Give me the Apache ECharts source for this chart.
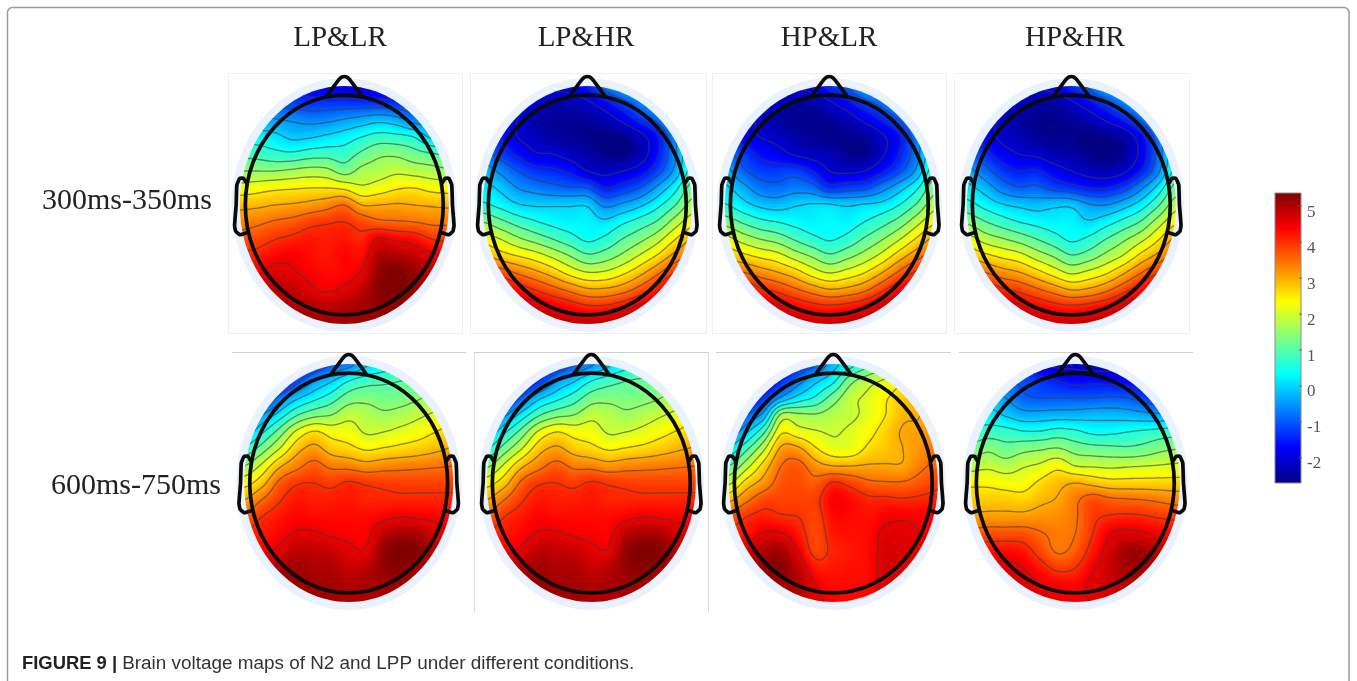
<!DOCTYPE html>
<html><head><meta charset="utf-8"><style>html,body{margin:0;padding:0;background:#fff}#c{width:1357px;height:681px}</style>
<script src="https://cdn.jsdelivr.net/npm/echarts@6/dist/echarts.min.js"></script></head><body><div id="c"></div>
<script>
const columnLabels=['LP&LR','LP&HR','HP&LR','HP&HR'];
const windowLabels=['300ms-350ms','600ms-750ms'];
const colorbarTicks=[-2,-1,0,1,2,3,4,5];
const colorbarRange=[-2.7,5.37];
const contourLevels=[-2,-1.5,-1,-0.5,0,0.5,1,1.5,2,2.5,3,3.5,4,4.5];
const jetStops=[[0,[0,0,128]],[0.125,[0,0,255]],[0.375,[0,255,255]],[0.625,[255,255,0]],[0.875,[255,0,0]],[1,[128,0,0]]];
const caption='Brain voltage maps of N2 and LPP under different conditions.';

const lpLr300=[
[-1.2,-1.2,-1.3,-1.5,-1.8,-1.9,-2,-2,-2,-1.9,-1.7,-1.4,-1.2],
[-.6,-.7,-1.1,-1.2,-1.3,-1.3,-1.3,-1.3,-1.3,-1.35,-1.3,-1.2,-1],
[-.2,-.3,-.45,-.55,-.65,-.6,-.45,-.3,-.15,-.3,-.7,-.7,-.6],
[.3,.25,.15,-.1,-.05,.1,.25,.5,.7,.65,.5,-.1,-.1],
[.85,.8,.65,.6,.75,.8,.75,1.1,1.4,1.4,1.2,1.05,.9],
[1.5,1.5,1.5,1.6,1.7,1.65,1.3,1.65,1.75,1.9,1.8,1.7,1.6],
[2.2,2.3,2.4,2.45,2.5,2.5,2.4,2.1,2.25,2.45,2.5,2.35,2.3],
[2.85,2.9,3,3.05,3.15,3.3,3.5,3,3,3.05,3,2.95,2.9],
[3.3,3.4,3.55,3.65,3.85,3.95,4,3.8,3.6,3.55,3.5,3.4,3.4],
[3.7,3.8,3.98,4.1,4.2,4.15,4.2,4.1,4.55,4.4,4.3,4,3.9],
[4.1,4.15,4.35,4.42,4.3,4.2,4.35,4.3,5,5,4.85,4.6,4.4],
[4.4,4.45,4.65,4.55,4.4,4.3,4.35,4.55,5.2,5.4,5.2,4.9,4.7],
[4.6,4.7,4.9,4.85,4.6,4.45,4.6,4.85,5.3,5.4,5.2,5,4.8],
[4.7,4.8,5,5,5,4.9,5,5.1,5.2,5.2,5,4.9,4.8],
[4.8,4.9,5,5.1,5.1,5.1,5.1,5.1,5.1,5,4.9,4.8,4.8]];
const lpHr300=[
[-1.5,-1.6,-1.7,-1.8,-1.9,-1.8,-1.5,-.8,-.3,0,.1,.2,.3],
[-1.5,-1.6,-1.8,-2.1,-2.3,-2.3,-2.1,-1.7,-1.2,-.7,-.2,.2,.3],
[-1.3,-1.6,-2,-2.4,-2.5,-2.5,-2.5,-2.3,-1.9,-1.4,-.9,-.2,.3],
[-1,-1.5,-2,-2.2,-2.4,-2.5,-2.6,-2.7,-2.6,-2.2,-1.6,-.6,.4],
[-.8,-1.2,-1.6,-1.95,-2,-2.2,-2.4,-2.6,-2.7,-2.3,-1.6,-.6,.5],
[-.2,-.6,-1,-1.3,-1.4,-1.6,-2,-2.15,-2,-1.75,-1.2,-.4,.7],
[.2,-.1,-.5,-.7,-.85,-.95,-1,-1.5,-1.3,-1,-.4,.3,1.2],
[.6,.35,.05,-.05,-.05,-.05,-.05,-.6,-.4,-.1,.35,.95,1.7],
[1.5,1.15,.8,.55,.35,.25,.25,.1,.4,.7,1.05,1.7,2.3],
[2.3,2,1.6,1.3,1,.7,.42,.6,1,1.35,1.8,2.45,3],
[3.1,2.75,2.5,2.25,1.9,1.5,1.1,1.25,1.6,2.05,2.55,3.15,3.6],
[4,3.8,3.45,3.15,2.8,2.35,2.05,2.1,2.4,2.85,3.4,4,4.3],
[4.6,4.6,4.3,4,3.7,3.4,3.1,3.1,3.3,3.7,4.2,4.7,4.8],
[4.8,4.8,4.8,4.7,4.5,4.3,4.1,4.1,4.3,4.6,4.8,4.9,4.9],
[5,5,5,5,5,4.9,4.9,4.9,5,5,5,5,5]];
const hpLr300=[
[-1.5,-1.6,-1.7,-1.8,-1.9,-1.8,-1.4,-1,-.3,0,.1,.2,.3],
[-1.5,-1.6,-1.9,-2.2,-2.4,-2.4,-2.1,-1.7,-1.2,-.8,-.3,.1,.3],
[-1.3,-1.6,-2.1,-2.4,-2.6,-2.6,-2.5,-2.3,-1.9,-1.5,-1,-.3,.3],
[-1,-1.7,-2,-2.15,-2.4,-2.5,-2.6,-2.6,-2.5,-2.1,-1.6,-.7,.4],
[-.9,-1.2,-1.6,-1.8,-2.05,-2.2,-2.3,-2.55,-2.6,-2.1,-1.5,-.7,.5],
[-.3,-.9,-1.2,-1.25,-1.2,-1.5,-2,-2.1,-2,-1.6,-1.1,-.4,.8],
[.1,-.3,-.75,-.85,-.7,-.8,-1.3,-1.2,-1.1,-.7,-.2,.4,1.3],
[.55,.2,-.1,-.2,-.05,.05,.05,-.05,.05,.15,.5,1.05,1.8],
[1.3,.95,.65,.5,.35,.25,.3,.25,.5,.8,1.2,1.8,2.4],
[2.2,1.8,1.5,1.3,.95,.65,.45,.65,1.05,1.45,1.95,2.55,3.1],
[2.9,2.65,2.4,2.2,1.8,1.45,1.1,1.35,1.7,2.15,2.75,3.3,3.7],
[3.7,3.55,3.3,3.05,2.75,2.3,2,2.2,2.5,3,3.6,4.1,4.3],
[4.4,4.5,4.1,3.9,3.6,3.3,3.05,3.15,3.4,3.9,4.4,4.7,4.8],
[4.8,4.8,4.8,4.6,4.4,4.2,4.1,4.2,4.4,4.7,4.8,4.9,4.9],
[5,5,5,5,4.9,4.8,4.8,4.9,5,5,5,5,5]];
const hpHr300=[
[-1.5,-1.6,-1.7,-1.8,-1.9,-1.8,-1.4,-.9,-.3,0,.2,.3,.4],
[-1.5,-1.6,-1.9,-2.2,-2.4,-2.4,-2.1,-1.7,-1.2,-.7,-.2,.3,.4],
[-1.3,-1.7,-2.1,-2.4,-2.6,-2.6,-2.5,-2.3,-1.95,-1.5,-.9,-.2,.4],
[-.9,-1.7,-2.1,-2.3,-2.5,-2.6,-2.6,-2.7,-2.6,-2.4,-1.7,-.7,.4],
[-.8,-1.3,-1.75,-2,-2.1,-2.3,-2.4,-2.6,-2.7,-2.5,-1.85,-.8,.5],
[-.3,-.8,-1.25,-1.5,-1.45,-1.75,-2,-2.2,-2.3,-2.1,-1.5,-.6,.7],
[.15,-.2,-.7,-.95,-.9,-1.15,-1.3,-1.5,-1.5,-1.2,-.6,.2,1.2],
[.7,.35,.05,-.1,-.2,-.1,-.1,-.45,-.5,-.2,.25,.95,1.8],
[1.4,1.05,.75,.5,.35,.25,.25,.05,.3,.65,1.05,1.75,2.4],
[2.25,1.8,1.55,1.3,1,.7,.42,.6,1,1.4,1.85,2.45,3.1],
[2.9,2.65,2.4,2.2,1.8,1.45,1.05,1.25,1.65,2.05,2.65,3.15,3.7],
[3.8,3.55,3.25,3.05,2.7,2.3,1.95,2.15,2.45,2.95,3.5,4,4.3],
[4.4,4.4,4.1,3.9,3.6,3.3,3,3.1,3.4,3.85,4.3,4.7,4.8],
[4.8,4.8,4.8,4.6,4.4,4.2,4.1,4.2,4.4,4.7,4.8,4.9,4.9],
[5,5,5,5,4.9,4.8,4.8,4.9,5,5,5,5,5]];
const lpLr600=[
[-2,-2,-2,-2,-1.5,-1,-.7,-.1,.2,.4,.6,.9,1.2],
[-2,-2,-2,-1.2,-.5,-.05,.5,.8,.9,1,1.1,1.3,1.5],
[-1.8,-1.7,-.8,-.1,.35,.75,1.25,1.35,1.25,1.3,1.45,1.7,1.9],
[-1.2,-.5,.2,.95,1.35,1.5,1.85,1.75,1.6,1.7,1.9,2.1,2.3],
[-.3,.4,1.2,2.1,2.55,2.3,2.25,1.95,2,2.15,2.3,2.5,2.7],
[.6,1.25,2,2.8,3.15,2.8,2.65,2.45,2.55,2.65,2.75,2.9,3.05],
[1.5,2.1,2.9,3.35,3.65,3.4,3.35,3.2,3.3,3.35,3.4,3.45,3.5],
[2.3,2.8,3.6,3.95,4,3.9,4.05,3.95,3.9,3.85,3.85,3.85,3.85],
[3,3.5,3.95,4.2,4.15,4.15,4.2,4.1,4.1,4.1,4.1,4.1,4.1],
[3.6,4,4.2,4.35,4.3,4.3,4.3,4.3,4.4,4.5,4.45,4.4,4.3],
[4.1,4.2,4.35,4.55,4.55,4.45,4.4,4.4,4.9,5.05,5,4.7,4.5],
[4.4,4.4,4.6,4.9,4.85,4.8,4.6,4.55,5.2,5.4,5.3,4.9,4.6],
[4.7,4.9,5,5.1,5,5,4.8,4.9,5.2,5.3,5.1,4.8,4.7],
[4.8,5,5.1,5.2,5.1,5.1,5,5.05,5.1,5.1,4.9,4.8,4.7],
[4.9,5,5.1,5.1,5.1,5.1,5,5,5,5,4.9,4.8,4.7]];
const lpHr600=[
[-2.1,-2.1,-2.1,-2,-1.6,-1,-.6,-.1,.3,.5,.8,1,1.2],
[-2.1,-2.1,-2,-1.3,-.5,-.05,.5,.8,1,1.1,1.2,1.4,1.6],
[-1.9,-1.7,-.9,-.1,.35,.75,1.25,1.35,1.3,1.35,1.5,1.75,2],
[-1.2,-.6,.2,.95,1.35,1.5,1.85,1.75,1.6,1.75,1.95,2.15,2.35],
[-.4,.4,1.2,2.1,2.5,2.3,2.25,1.95,2,2.15,2.35,2.55,2.7],
[.5,1.25,2,2.8,3.1,2.8,2.65,2.45,2.55,2.65,2.8,2.95,3.05],
[1.4,2.1,2.9,3.35,3.65,3.4,3.35,3.2,3.3,3.35,3.4,3.45,3.5],
[2.3,2.8,3.6,3.95,4,3.9,4.05,3.95,3.9,3.85,3.85,3.85,3.85],
[3,3.5,3.95,4.2,4.15,4.15,4.2,4.1,4.1,4.1,4.1,4.1,4.1],
[3.6,4,4.2,4.35,4.3,4.3,4.3,4.3,4.4,4.5,4.45,4.4,4.3],
[4.1,4.2,4.35,4.55,4.55,4.45,4.4,4.4,4.9,5.05,5,4.7,4.5],
[4.4,4.4,4.6,4.9,4.85,4.8,4.6,4.55,5.2,5.4,5.3,4.9,4.6],
[4.7,4.9,5,5.1,5,5,4.8,4.9,5.2,5.3,5.1,4.8,4.7],
[4.8,5,5.1,5.2,5.1,5.1,5,5.05,5.1,5.1,4.9,4.8,4.7],
[4.9,5,5.1,5.1,5.1,5.1,5,5,5,5,4.9,4.8,4.7]];
const hpLr600=[
[-2.2,-2.2,-2.2,-2,-1.5,-1,-.2,.3,.9,1.3,1.8,2.2,2.5],
[-2.2,-2.2,-2,-1.4,-.7,-.1,.4,1.35,1.8,2.1,2.45,2.8,3],
[-2,-1.8,-1.3,-.4,.2,.6,1.25,1.85,2.1,2.45,2.75,3,3.2],
[-1.8,-1,-.3,1.6,1.6,1.55,1.75,1.9,2.15,2.5,2.9,3,3.3],
[-.9,-.1,.9,2.4,2.2,2.05,1.95,2.1,2.35,2.7,3.05,3.1,3.4],
[.1,.9,1.9,3.1,3.1,2.55,2.2,2.2,2.6,2.8,3,3.2,3.5],
[1,1.8,2.7,3.5,3.65,3.2,3,3,3.05,3.05,3.05,3.4,3.6],
[1.9,2.7,3.2,3.7,3.75,3.65,4.05,3.85,3.6,3.55,3.55,3.7,3.9],
[2.9,3.4,3.8,3.85,3.85,3.9,4.4,4.3,4.1,4.1,4.05,4.1,4.15],
[3.7,4,4.15,4.05,4,3.85,4.3,4.3,4.25,4.4,4.45,4.4,4.35],
[4.15,4.25,4.55,4.55,4.2,3.8,4.2,4.25,4.3,4.6,4.6,4.5,4.4],
[4.5,4.7,5,5.1,4.5,3.85,4.1,4.2,4.3,4.65,4.65,4.6,4.5],
[4.8,5,5.2,5.3,4.85,4.2,4.2,4.25,4.3,4.7,4.65,4.6,4.5],
[4.9,5,5.1,5.1,5,4.5,4.3,4.3,4.35,4.6,4.6,4.5,4.4],
[4.9,5,5,5,4.9,4.6,4.4,4.3,4.35,4.5,4.5,4.4,4.4]];
const hpHr600=[
[-.8,-.8,-1.2,-1.5,-2,-2.1,-2.1,-2.2,-2.2,-2.2,-2.1,-2,-1.9],
[-.6,-.4,-.9,-1.1,-1.3,-1.5,-1.65,-1.6,-1.65,-1.7,-1.8,-1.8,-1.7],
[-.5,-.2,-.5,-.9,-1,-1,-1,-1,-.95,-1,-1.2,-1.4,-1.2],
[.1,.2,-.05,-.3,-.3,-.25,-.25,-.2,-.2,-.25,-.35,-.4,-.3],
[.6,.75,.7,.55,.55,.7,.6,.4,.4,.5,.6,.7,.8],
[1.2,1.4,1.2,1.35,1.45,1.55,1.3,1.2,1.15,1.1,1.2,1.4,1.5],
[1.8,1.9,1.75,1.95,2.1,2.35,2,1.95,1.9,1.95,2,2.05,2.1],
[2.4,2.4,2.3,2.3,2.6,2.85,3,2.85,2.7,2.7,2.7,2.7,2.7],
[2.75,2.75,2.75,2.7,2.9,3.05,3.4,3.75,3.6,3.55,3.5,3.4,3.3],
[3.1,3.15,3.15,3.15,3.2,3.25,3.45,3.9,4.05,4.1,4.05,3.95,3.9],
[3.7,3.75,3.75,3.75,3.55,3.4,3.5,4,4.5,4.65,4.55,4.4,4.3],
[4.2,4.25,4.3,4.2,3.8,3.45,3.65,4.2,4.7,5.1,5.1,4.8,4.6],
[4.4,4.5,4.6,4.5,4.2,3.9,4,4.45,4.8,5.1,5.1,4.8,4.6],
[4.6,4.6,4.7,4.65,4.5,4.4,4.35,4.6,4.75,4.9,4.9,4.8,4.6],
[4.6,4.6,4.7,4.6,4.5,4.5,4.5,4.5,4.6,4.8,4.8,4.7,4.6]];

const maps=[lpLr300,lpHr300,hpLr300,hpHr300,lpLr600,lpHr600,hpLr600,hpHr600];
const centers=[[344.3,205],[587.3,205],[829.3,205],[1071.3,205],[348.7,483],[591.3,483],[833.3,483],[1075.3,483]];
const RX=104.5,RY=119;
const nose=[[-.165,.92],[-.05,1.055],[-.025,1.075],[0,1.08],[.025,1.075],[.05,1.055],[.165,.92]];
const ear=[[-.94,.19],[-.965,.225],[-1,.225],[-1.028,.17],[-1.035,0],[-1.05,-.17],[-1.04,-.22],[-1,-.25],[-.94,-.235]];

function jet(v){
  let t=(v-colorbarRange[0])/(colorbarRange[1]-colorbarRange[0]);t=Math.max(0,Math.min(1,t));
  for(let i=1;i<jetStops.length;i++){ if(t<=jetStops[i][0]){
    const a=jetStops[i-1],b=jetStops[i],f=(t-a[0])/(b[0]-a[0]);
    return [0,1,2].map(k=>a[1][k]+(b[1][k]-a[1][k])*f);
  }}
  return jetStops[jetStops.length-1][1];
}
function cr(a,b,c,d,t){return b+0.5*t*(c-a+t*(2*a-5*b+4*c-d+t*(3*(b-c)+d-a)));}
// smooth drawing of the read grid values (renderer only; the series holds just the read values)
function sample(m,fx,fy){
  const R=m.length-1,C=m[0].length-1;
  fx=Math.max(0,Math.min(C,fx));fy=Math.max(0,Math.min(R,fy));
  const i=Math.min(C-1,Math.floor(fx)),j=Math.min(R-1,Math.floor(fy)),tx=fx-i,ty=fy-j;
  const row=r=>{const q=m[Math.max(0,Math.min(R,r))];
    return cr(q[Math.max(0,i-1)],q[i],q[i+1],q[Math.min(C,i+2)],tx);};
  return cr(row(j-1),row(j),row(j+1),row(j+2),ty);
}
function fieldItem(m){
  return function(params,api){
    const x=api.value(0),y=api.value(1);
    const col=Math.round((x+1)*6),row=Math.round((1-y)*7);
    const o=api.coord([-1,1]),e=api.coord([1,-1]),c=api.coord([0,0]);
    const dx=(e[0]-o[0])/12,dy=(e[1]-o[1])/14;
    const x0=Math.round(o[0]+(col-.5)*dx),x1=Math.round(o[0]+(col+.5)*dx);
    const y0=Math.round(o[1]+(row-.5)*dy),y1=Math.round(o[1]+(row+.5)*dy);
    const w=x1-x0,h=y1-y0;
    const cv=document.createElement('canvas');cv.width=w;cv.height=h;
    const ctx=cv.getContext('2d'),im=ctx.createImageData(w,h);
    const fxOf=p=>(p-o[0])/dx,fyOf=p=>(p-o[1])/dy;
    for(let py=0;py<h;py++)for(let px=0;px<w;px++){
      const q=jet(sample(m,fxOf(x0+px+.5),fyOf(y0+py+.5)));const k=(py*w+px)*4;
      im.data[k]=q[0];im.data[k+1]=q[1];im.data[k+2]=q[2];im.data[k+3]=255;
    }
    ctx.putImageData(im,0,0);
    const children=[{type:'image',z2:0,style:{image:cv,x:x0,y:y0,width:w,height:h},silent:true}];
    const st=3;
    for(let gx=Math.ceil(x0/st)*st;gx<x1;gx+=st)for(let gy=Math.ceil(y0/st)*st;gy<y1;gy+=st){
      const a=sample(m,fxOf(gx),fyOf(gy)),b=sample(m,fxOf(gx+st),fyOf(gy)),
            d=sample(m,fxOf(gx),fyOf(gy+st)),f=sample(m,fxOf(gx+st),fyOf(gy+st));
      for(const L of contourLevels){
        const pts=[];
        if((a<L)!==(b<L))pts.push([gx+st*(L-a)/(b-a),gy]);
        if((b<L)!==(f<L))pts.push([gx+st,gy+st*(L-b)/(f-b)]);
        if((d<L)!==(f<L))pts.push([gx+st*(L-d)/(f-d),gy+st]);
        if((a<L)!==(d<L))pts.push([gx,gy+st*(L-a)/(d-a)]);
        for(let n=0;n+1<pts.length;n+=2)children.push({type:'line',silent:true,z2:10,
          shape:{x1:pts[n][0],y1:pts[n][1],x2:pts[n+1][0],y2:pts[n+1][1]},
          style:{stroke:'rgba(60,60,60,0.6)',lineWidth:1.3,lineCap:'butt'}});
      }
    }
    return {type:'group',clipPath:{type:'ellipse',shape:{cx:c[0],cy:c[1],rx:(e[0]-o[0])/2,ry:(e[1]-o[1])/2}},children};
  };
}
function haloItem(params,api){
  const c=api.coord([0,0]),e=api.coord([1.077,-1.067]);
  return {type:'ellipse',silent:true,shape:{cx:c[0],cy:c[1],rx:e[0]-c[0],ry:e[1]-c[1]},style:{fill:'#eaf3fd'}};
}
function outlineItem(params,api){
  const c=api.coord([0,0]),e=api.coord([.947,-.924]);
  const P=a=>a.map(p=>api.coord(p));
  const S={stroke:'#0a0a0a',lineWidth:3.7,fill:null,lineJoin:'round',lineCap:'round'};
  return {type:'group',silent:true,children:[
    {type:'ellipse',shape:{cx:c[0],cy:c[1],rx:e[0]-c[0],ry:e[1]-c[1]},style:S},
    {type:'polyline',shape:{points:P(nose),smooth:.15},style:S},
    {type:'polyline',shape:{points:P(ear),smooth:.12},style:S},
    {type:'polyline',shape:{points:P(ear.map(p=>[-p[0],p[1]])),smooth:.12},style:S}
  ]};
}

const grid=[],xAxis=[],yAxis=[],series=[];
maps.forEach((m,h)=>{
  const [cx,cy]=centers[h];
  grid.push({left:cx-RX,top:cy-RY,width:2*RX,height:2*RY,show:false});
  xAxis.push({type:'value',gridIndex:h,min:-1,max:1,show:false});
  yAxis.push({type:'value',gridIndex:h,min:-1,max:1,show:false});
  const data=[];
  m.forEach((r,j)=>r.forEach((v,i)=>data.push([i/6-1,1-j/7,v])));
  const base={type:'custom',xAxisIndex:h,yAxisIndex:h,coordinateSystem:'cartesian2d',animation:false,silent:true,clip:false};
  series.push({...base,name:'halo'+h,z:1,data:[[0,0]],renderItem:haloItem});
  series.push({...base,name:'map'+h,z:2,data,renderItem:fieldItem(m),progressive:0});
  series.push({...base,name:'head'+h,z:3,data:[[0,0]],renderItem:outlineItem});
});
const B=maps.length;
grid.push({left:1275,top:193,width:26,height:290,show:false});
xAxis.push({type:'value',gridIndex:B,min:0,max:1,show:false});
yAxis.push({type:'value',gridIndex:B,position:'right',min:colorbarRange[0],max:colorbarRange[1],splitLine:{show:false},
  axisLine:{show:false},axisTick:{show:false},
  axisLabel:{show:true,customValues:colorbarTicks,margin:6,verticalAlign:'top',lineHeight:12,color:'#555',fontFamily:'Liberation Serif',fontSize:17}});
series.push({type:'custom',xAxisIndex:B,yAxisIndex:B,animation:false,silent:true,z:1,data:[[0,colorbarRange[0],1,colorbarRange[1]]],
  renderItem(params,api){
    const a=api.coord([api.value(0),api.value(3)]),b=api.coord([api.value(2),api.value(1)]);
    const kids=[{type:'rect',shape:{x:a[0],y:a[1],width:b[0]-a[0],height:b[1]-a[1]},
      style:{stroke:'#8a8a8a',lineWidth:1,fill:{type:'linear',x:0,y:1,x2:0,y2:0,colorStops:jetStops.map(s=>({offset:s[0],color:'rgb('+s[1].join(',')+')'}))}}}];
    colorbarTicks.forEach(t=>{const p=api.coord([1,t]);
      kids.push({type:'line',shape:{x1:p[0]-2,y1:p[1],x2:p[0]+1,y2:p[1]},style:{stroke:'#666',lineWidth:1}});});
    return {type:'group',children:kids};
  }});

const titleCenters=[340,586,829,1075];
const title=columnLabels.map((t,i)=>({text:t,left:titleCenters[i],top:24,padding:0,textAlign:'center',
  textStyle:{fontFamily:'Liberation Serif',fontSize:29,fontWeight:'normal',color:'#222'}}));
title.push({text:windowLabels[0],left:42,top:186,padding:0,textStyle:{fontFamily:'Liberation Serif',fontSize:30,fontWeight:'normal',color:'#222'}});
title.push({text:windowLabels[1],left:51,top:471,padding:0,textStyle:{fontFamily:'Liberation Serif',fontSize:30,fontWeight:'normal',color:'#222'}});
title.push({text:'{b|FIGURE 9 | }{r|'+caption+'}',left:22,top:654,padding:0,textStyle:{rich:{
  b:{fontFamily:'Liberation Sans',fontWeight:'bold',fontSize:18.4,color:'#222'},
  r:{fontFamily:'Liberation Sans',fontWeight:'normal',fontSize:18.9,color:'#333'}}}});

const line=(x1,y1,x2,y2,c)=>({type:'line',silent:true,shape:{x1,y1,x2,y2},style:{stroke:c,lineWidth:1}});
const rect=(x,y,w,h,c)=>({type:'rect',silent:true,shape:{x,y,width:w,height:h},style:{fill:null,stroke:c,lineWidth:1}});
const graphic=[
  {type:'rect',silent:true,shape:{x:7.5,y:7.5,width:1341.5,height:720,r:5},style:{fill:null,stroke:'#9a9a9a',lineWidth:1.5}},
  rect(228.5,73.5,234,260,'#f0f0f0'),rect(470.5,73.5,236,260,'#f0f0f0'),rect(712.5,73.5,234,260,'#f0f0f0'),rect(954.5,73.5,235,260,'#f0f0f0'),
  line(232,352.5,466,352.5,'#cfcfcf'),line(474,352.5,708,352.5,'#cfcfcf'),line(716,352.5,951,352.5,'#cfcfcf'),line(959,352.5,1193,352.5,'#cfcfcf'),
  line(474.5,352,474.5,612,'#dcdcdc'),line(708.5,352,708.5,612,'#dcdcdc')
];
const chart=echarts.init(document.getElementById('c'),null,{renderer:'canvas'});
chart.setOption({animation:false,backgroundColor:'#fff',title,grid,xAxis,yAxis,series,graphic:{elements:graphic}});
</script></body></html>
